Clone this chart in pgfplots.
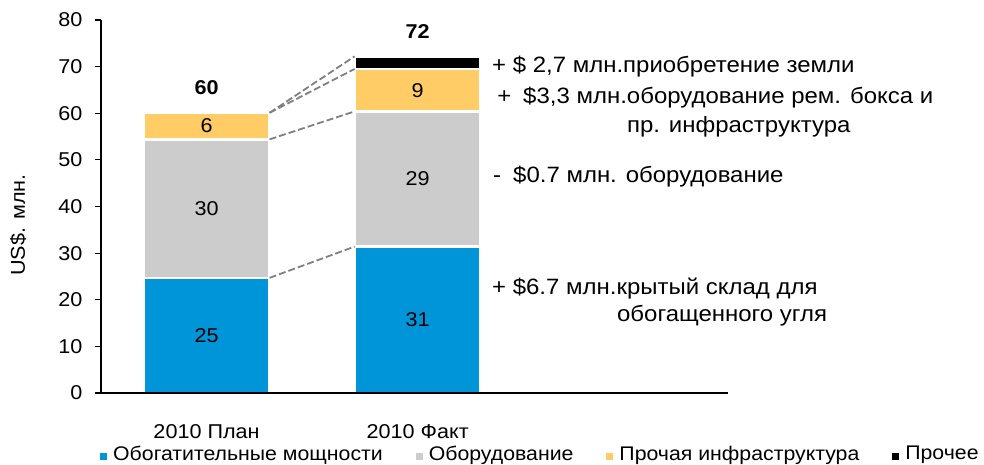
\documentclass[border=0pt]{standalone}
\usepackage{fontspec}
\setmainfont[FakeStretch=1.08]{Liberation Sans}
\usepackage{pgfplots}
\pgfplotsset{compat=1.18}
\definecolor{cblue}{RGB}{0,149,217}
\definecolor{cgray}{RGB}{204,204,204}
\definecolor{cyellow}{RGB}{255,204,102}
\definecolor{cdash}{RGB}{128,128,128}
\newcommand{\annfont}{\fontsize{22.2}{26}\selectfont}
\newcommand{\basefont}{\fontsize{20}{24}\selectfont}
\begin{document}
\begin{tikzpicture}[font=\basefont]
\path[use as bounding box] (0,0) rectangle (984pt,465pt);
\begin{axis}[
  at={(101pt,72pt)}, anchor=south west,
  scale only axis, width=627pt, height=373pt,
  ybar stacked, bar width=0.597,
  xmin=-0.5, xmax=2.47, ymin=0, ymax=80,
  enlargelimits=false, clip=false, axis on top,
  axis x line=bottom, axis y line=left,
  axis line style={-, line width=1.5pt, black},
  xtick={0,1}, xticklabels={2010 План, 2010 Факт},
  xtick style={draw=none},
  xticklabel style={yshift=-22pt},
  ytick={0,10,...,80},
  ytick style={line width=1.2pt, black},
  tick align=outside, major tick length=6pt,
  yticklabel style={xshift=-9pt},
  /pgf/number format/assume math mode=true,
  ylabel={US\$. млн.},
  ylabel style={at={(axis description cs:-0.132,0.45)}, anchor=center},
  legend columns=4,
  legend style={at={(axis description cs:-0.0016,-0.163)}, anchor=west, draw=none, fill=none, inner sep=0pt,
    font=\fontsize{19.7}{23}\selectfont,
    /tikz/every odd column/.append style={column sep=4pt},
    /tikz/every even column/.append style={column sep=31pt}},
  legend image code/.code={\draw[#1,draw=none] (0pt,-6pt) rectangle (7pt,1pt);},
]
\addplot[fill=cblue, draw=white, line width=2.5pt] coordinates {(0,24.7) (1,31.4)};
\addplot[fill=cgray, draw=white, line width=2.5pt] coordinates {(0,29.7) (1,29.0)};
\addplot[fill=cyellow, draw=white, line width=2.5pt] coordinates {(0,5.7) (1,9.1)};
\addplot[fill=black, draw=white, line width=2.5pt] coordinates {(0,0) (1,2.7)};
\legend{Обогатительные мощности, Оборудование, Прочая инфраструктура, Прочее}
\node[anchor=west, inner sep=0pt, font=\annfont] at (axis cs:1.352,70.0) {+ \$ 2,7 млн.приобретение земли};
\node[anchor=west, inner sep=0pt, font=\annfont] at (axis cs:1.376,63.3) {+\hspace{12pt}\$3,3 млн.оборудование рем. бокса и};
\node[anchor=west, inner sep=0pt, font=\annfont] at (axis cs:1.991,57.1) {пр. инфраструктура};
\node[anchor=west, inner sep=0pt, font=\annfont] at (axis cs:1.357,46.35) {-\hspace{12pt}\$0.7 млн. оборудование};
\node[anchor=west, inner sep=0pt, font=\annfont] at (axis cs:1.352,22.5) {+ \$6.7 млн.крытый склад для};
\node[anchor=west, inner sep=0pt, font=\annfont] at (axis cs:1.944,16.5) {обогащенного угля};
\end{axis}
\begin{axis}[
  at={(101pt,72pt)}, anchor=south west,
  scale only axis, width=627pt, height=373pt,
  xmin=-0.5, xmax=2.47, ymin=0, ymax=80,
  axis lines=none, clip=false,
]
\addplot[cdash, line width=1.8pt, dash pattern=on 7pt off 3pt] coordinates {(0.2985,24.7) (0.7015,31.4)};
\addplot[cdash, line width=1.8pt, dash pattern=on 7pt off 3pt] coordinates {(0.2985,54.4) (0.7015,60.4)};
\addplot[cdash, line width=1.8pt, dash pattern=on 7pt off 3pt] coordinates {(0.2985,60.1) (0.7015,69.5)};
\addplot[cdash, line width=1.8pt, dash pattern=on 7pt off 3pt] coordinates {(0.2985,60.1) (0.7015,72.2)};
\node at (axis cs:0,12.35) {25};
\node at (axis cs:0,39.55) {30};
\node at (axis cs:0,57.25) {6};
\node at (axis cs:1,15.7) {31};
\node at (axis cs:1,45.9) {29};
\node at (axis cs:1,64.95) {9};
\node[font=\basefont\bfseries] at (axis cs:0,65.4) {60};
\node[font=\basefont\bfseries] at (axis cs:1,77.5) {72};
\end{axis}
\end{tikzpicture}
\end{document}
